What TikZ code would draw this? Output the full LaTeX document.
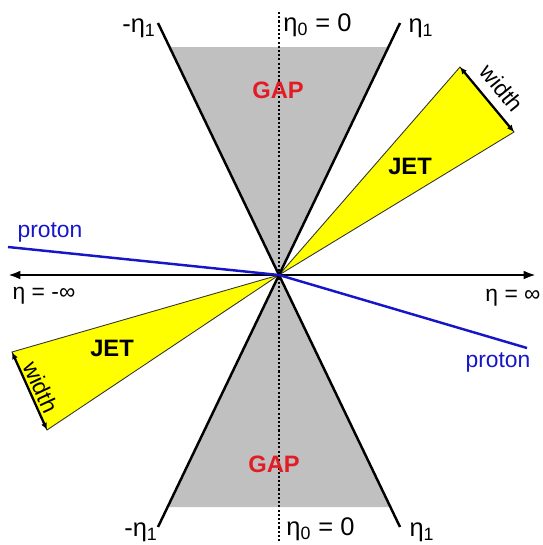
\documentclass[tikz,border=0pt]{standalone}
\usepackage{fontspec}
\setmainfont{Liberation Sans}
\usepackage{xcolor}
\usetikzlibrary{arrows.meta, positioning, calc}

\definecolor{gapgray}{RGB}{192,192,192}
\definecolor{jetyellow}{RGB}{255,255,0}
\definecolor{gapred}{RGB}{226,28,36}
\definecolor{protonblue}{RGB}{22,22,200}

\begin{document}
\begin{tikzpicture}[x=0.02cm, y=-0.02cm,
    lbl/.style={font=\fontsize{13}{15}\selectfont, inner sep=0pt},
    etalbl/.style={font=\fontsize{14.5}{16}\selectfont, inner sep=0pt},
    gaplbl/.style={font=\fontsize{13.5}{15}\selectfont\bfseries, text=gapred, inner sep=0pt},
    jetlbl/.style={font=\fontsize{13.5}{15}\selectfont\bfseries, inner sep=0pt},
    protonlbl/.style={lbl, text=protonblue},
    etaline/.style={line width=1.4pt},
    jetcone/.style={fill=jetyellow, draw=black!80, line width=0.5pt},
    widtharrow/.style={line width=1.3pt, {Latex[length=4pt,width=3.5pt]}-{Latex[length=4pt,width=3.5pt]}},
    proton/.style={protonblue, line width=1.4pt}]
    \useasboundingbox (0,0) rectangle (543,545);

    % vertex and cone ends
    \coordinate (O) at (279,275);
    \coordinate (etaTL) at (158,23);
    \coordinate (etaTR) at (400,23);
    \coordinate (etaBL) at (158,527);
    \coordinate (etaBR) at (400,527);

    % rapidity gaps
    \fill[gapgray] (O) -- (170,47) -- (388,47) -- cycle;
    \fill[gapgray] (O) -- (168,507) -- (390,507) -- cycle;

    % jets
    \coordinate (jetA1) at (460,67);
    \coordinate (jetA2) at (514,132);
    \coordinate (jetB1) at (12,352);
    \coordinate (jetB2) at (47,430);
    \draw[jetcone] (O) -- (jetA1) -- (jetA2) -- cycle;
    \draw[jetcone] (O) -- (jetB1) -- (jetB2) -- cycle;
    \draw[widtharrow] (jetA1) -- (jetA2);
    \draw[widtharrow] (jetB1) -- (jetB2);

    % eta_1 lines and eta_0 line
    \draw[etaline] (etaTL) -- (etaBR);
    \draw[etaline] (etaTR) -- (etaBL);
    \coordinate (etaT0) at (279,12);
    \coordinate (etaB0) at (279,541);
    \draw[line width=1.2pt, dash pattern=on 1.2pt off 1.2pt] (etaT0) -- (etaB0);

    % beam axis
    \coordinate (axL) at (8,275);
    \coordinate (axR) at (536,275);
    \draw[line width=1.3pt, {Latex[length=7pt,width=5pt]}-{Latex[length=7pt,width=5pt]}] (axL) -- (axR);

    % protons
    \coordinate (pIn) at (8,247);
    \coordinate (pOut) at (527,348);
    \draw[proton] (pIn) -- (O);
    \draw[proton] (O) -- (pOut);

    % labels
    \node[etalbl] (lTL) at (139,28) {-η\textsubscript{1}};
    \node[etalbl, anchor=west] (lT0) at (283,25) {η\textsubscript{0} = 0};
    \node[etalbl] (lTR) at (421,28) {η\textsubscript{1}};
    \node[etalbl] (lBL) at (141,532) {-η\textsubscript{1}};
    \node[etalbl, anchor=west] (lB0) at (286,529) {η\textsubscript{0} = 0};
    \node[etalbl] (lBR) at (422,532) {η\textsubscript{1}};
    \node[gaplbl] (gapT) at (278,90) {GAP};
    \node[gaplbl] (gapB) at (274,464) {GAP};
    \node[jetlbl] (jetA) at (410,166) {JET};
    \node[jetlbl] (jetB) at (112,348) {JET};
    \node[lbl, rotate=-51] (wA) at (502,88) {width};
    \node[lbl, rotate=-65] (wB) at (41,387) {width};
    \node[protonlbl] (pL) at (50,232) {proton};
    \node[protonlbl] (pR) at (498,362) {proton};
    \node[lbl] (etaM) at (44,296) {η = -∞};
    \node[lbl] (etaP) at (513,298) {η = ∞};
\end{tikzpicture}
\end{document}
